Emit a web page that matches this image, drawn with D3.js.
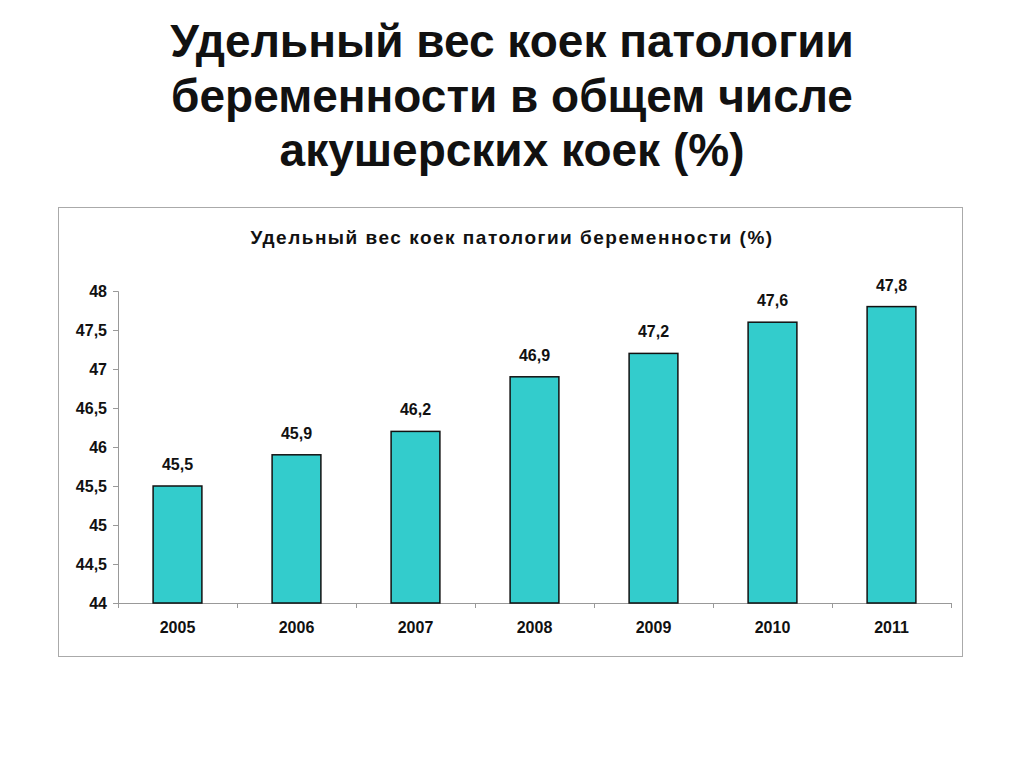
<!DOCTYPE html>
<html><head><meta charset="utf-8">
<script src="https://cdn.jsdelivr.net/npm/d3@7"></script>
<style>body{margin:0;background:#fff;} text{font-family:"Liberation Sans",Arial,sans-serif;}</style>
</head><body>
<svg id="c" width="1024" height="768"></svg>
<script>
const titleLines = ["Удельный вес коек патологии", "беременности в общем числе", "акушерских коек (%)"];
const chartTitle = "Удельный вес коек патологии беременности (%)";
const years = ["2005","2006","2007","2008","2009","2010","2011"];
const values = [45.5, 45.9, 46.2, 46.9, 47.2, 47.6, 47.8];
const yTicks = [44, 44.5, 45, 45.5, 46, 46.5, 47, 47.5, 48];

const svg = d3.select("#c");
const fmt = v => String(v).replace(".", ",");

svg.selectAll("text.t").data(titleLines).enter().append("text")
  .attr("x", 512).attr("y", (d,i) => 57 + i*54.5)
  .attr("text-anchor","middle").attr("font-size", 46).attr("font-weight","bold").attr("fill","#111")
  .text(d => d);

svg.append("rect").attr("x",58.5).attr("y",207.5).attr("width",904).attr("height",449)
  .attr("fill","#fff").attr("stroke","#aaa").attr("stroke-width",1);

svg.append("text").attr("x",512).attr("y",244).attr("text-anchor","middle")
  .attr("font-size",19).attr("font-weight","bold").attr("letter-spacing",1.5).attr("fill","#111")
  .text(chartTitle);

const x = d3.scaleBand().domain(years).range([118, 951]).paddingInner(0.59).paddingOuter(0.295);
const y = d3.scaleLinear().domain([44, 48]).range([603, 291]);

const yAxis = svg.append("g").attr("transform","translate(118,0)")
  .call(d3.axisLeft(y).tickValues(yTicks).tickSize(5).tickFormat(fmt));
yAxis.selectAll("path,line").attr("stroke","#999");
yAxis.selectAll("text").attr("font-size",16).attr("font-weight","bold").attr("fill","#111")
  .attr("font-family","Liberation Sans, Arial, sans-serif").attr("dx",-3);

const xg = svg.append("g").attr("transform","translate(0,603)");
xg.append("line").attr("x1",118).attr("x2",951).attr("y1",0.5).attr("y2",0.5).attr("stroke","#999");
const step = x.step();
xg.selectAll("line.tk").data(d3.range(years.length+1)).enter().append("line")
  .attr("x1", i => 118 + i*step + 0.5).attr("x2", i => 118 + i*step + 0.5)
  .attr("y1",0).attr("y2",5).attr("stroke","#999");
xg.selectAll("text").data(years).enter().append("text")
  .attr("x", d => x(d) + x.bandwidth()/2).attr("y", 30)
  .attr("text-anchor","middle").attr("font-size",16).attr("font-weight","bold").attr("fill","#111")
  .text(d => d);

svg.selectAll("rect.bar").data(values).enter().append("rect").attr("class","bar")
  .attr("x", (d,i) => x(years[i])).attr("width", x.bandwidth())
  .attr("y", d => y(d)).attr("height", d => y(44) - y(d))
  .attr("fill","#33CCCC").attr("stroke","#111").attr("stroke-width",1.5);

svg.selectAll("text.lbl").data(values).enter().append("text")
  .attr("x", (d,i) => x(years[i]) + x.bandwidth()/2).attr("y", d => y(d) - 16)
  .attr("text-anchor","middle").attr("font-size",16).attr("font-weight","bold").attr("fill","#111")
  .text(fmt);
</script>
</body></html>
